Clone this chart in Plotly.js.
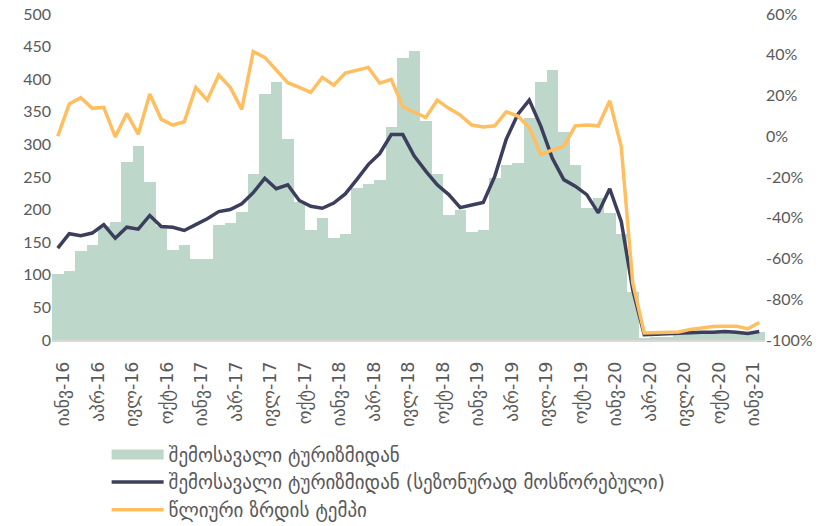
<!DOCTYPE html>
<html>
<head>
<meta charset="utf-8">
<script src="https://cdn.plot.ly/plotly-3.0.1.min.js"></script>
<style>html,body{margin:0;padding:0;background:#fff;}#chart{width:833px;height:526px;}</style>
</head>
<body>
<div id="chart"></div>
<script>
const categories = [
 'იანვ-16','თებ-16','მარ-16','აპრ-16','მაი-16','ივნ-16','ივლ-16','აგვ-16','სექ-16','ოქტ-16','ნოე-16','დეკ-16',
 'იანვ-17','თებ-17','მარ-17','აპრ-17','მაი-17','ივნ-17','ივლ-17','აგვ-17','სექ-17','ოქტ-17','ნოე-17','დეკ-17',
 'იანვ-18','თებ-18','მარ-18','აპრ-18','მაი-18','ივნ-18','ივლ-18','აგვ-18','სექ-18','ოქტ-18','ნოე-18','დეკ-18',
 'იანვ-19','თებ-19','მარ-19','აპრ-19','მაი-19','ივნ-19','ივლ-19','აგვ-19','სექ-19','ოქტ-19','ნოე-19','დეკ-19',
 'იანვ-20','თებ-20','მარ-20','აპრ-20','მაი-20','ივნ-20','ივლ-20','აგვ-20','სექ-20','ოქტ-20','ნოე-20','დეკ-20',
 'იანვ-21','თებ-21'
];
const tickLabels = ['იანვ-16','აპრ-16','ივლ-16','ოქტ-16','იანვ-17','აპრ-17','ივლ-17','ოქტ-17','იანვ-18','აპრ-18','ივლ-18',
 'ოქტ-18','იანვ-19','აპრ-19','ივლ-19','ოქტ-19','იანვ-20','აპრ-20','ივლ-20','ოქტ-20','იანვ-21'];

const revenue = [101,106,136,145,175,181,273,298,243,175,138,145,
 125,124,177,180,196,255,378,396,308,212,169,187,
 157,162,233,240,246,326,433,444,336,254,192,200,
 165,169,248,268,272,341,396,414,319,268,202,218,
 195,162,74,3,4,5,8,11,12,12,11,12,11,13];

const revenueSA = [141,163,160,164,177,156,173,170,191,174,173,168,
 177,186,197,200,209,226,248,232,238,214,205,202,
 210,224,246,269,286,315,315,282,259,238,223,203,
 207,211,251,308,346,368,328,279,246,236,223,195,
 232,182,77,8,9,10,11,12,12,12,13,12,10,13];

const growth = [0,15.8,18.9,13.7,14.2,-0.3,11.2,1,20.7,8.3,5.5,7.1,
 24,17.7,30,24,13.2,41.5,38.7,32.2,26.3,24,21.5,28.9,
 25.1,31,32.2,33.8,26,27.9,14.5,12,9.2,17.7,13.7,10.4,
 5.5,4.6,5.1,12,9.9,4.3,-8.8,-6.8,-4.9,5.1,5.5,5.1,
 17.4,-5.2,-72,-96.6,-96.5,-96.6,-96.1,-94.8,-94,-93.4,-93.2,-93.2,-94.5,-91.4];

const y2Vals = [-100,-80,-60,-40,-20,0,20,40,60];
const y2Text = ['-100%','-80%','-60%','-40%','-20%','0%','20%','40%','60%'];

const seriesNames = ['შემოსავალი ტურიზმიდან','შემოსავალი ტურიზმიდან (სეზონურად მოსწორებული)','წლიური ზრდის ტემპი'];

const fontFam = 'Lato, "DejaVu Sans", sans-serif';
const geoFont = '"DejaVu Sans", sans-serif';
const textCol = '#595959';
const green = '#BDD7CA', navy = '#3B3F5C', orange = '#FFBF60';

const traces = [
 {type:'bar', x:categories, y:revenue, name:seriesNames[0], showlegend:false, marker:{color:green, line:{width:0}}, yaxis:'y'},
 {type:'scatter', mode:'lines', x:[null], y:[null], name:seriesNames[0], line:{color:green, width:11}, yaxis:'y', hoverinfo:'skip'},
 {type:'scatter', mode:'lines', x:categories, y:revenueSA, name:seriesNames[1], line:{color:navy, width:3.5}, yaxis:'y'},
 {type:'scatter', mode:'lines', x:categories, y:growth, name:seriesNames[2], line:{color:orange, width:3.5}, yaxis:'y2'}
];

const layout = {
 width:833, height:526,
 margin:{l:52, r:68, t:14, b:186, autoexpand:false},
 paper_bgcolor:'#fff', plot_bgcolor:'#fff',
 bargap:0,
 showlegend:true,
 font:{family:fontFam, color:textCol, size:16},
 xaxis:{type:'category', categoryorder:'array', categoryarray:categories, tickmode:'array', tickvals:tickLabels, ticktext:tickLabels, tickangle:-90,
   tickfont:{family:geoFont, size:17.5, color:textCol}, ticklabelstandoff:13, ticklabelshift:6,
   showline:true, linecolor:'#D9D9D9', linewidth:1.5, ticks:'', showgrid:false, zeroline:false, automargin:false},
 yaxis:{range:[0,500], dtick:50, showgrid:false, zeroline:false, showline:false, ticks:'', automargin:false,
   tickfont:{family:fontFam, size:16, color:textCol}},
 yaxis2:{range:[-100,60], overlaying:'y', side:'right', tickmode:'array', tickvals:y2Vals, ticktext:y2Text, automargin:false,
   showgrid:false, zeroline:false, showline:false, ticks:'', tickfont:{family:fontFam, size:16, color:textCol}},
 legend:{orientation:'v', xref:'container', yref:'container', x:0.128, xanchor:'left', y:0.172, yanchor:'top',
   font:{family:geoFont, size:19, color:textCol}, tracegroupgap:0, itemwidth:52, bgcolor:'rgba(0,0,0,0)'}
};

Plotly.newPlot('chart', traces, layout, {displayModeBar:false, staticPlot:true});
</script>
</body>
</html>
